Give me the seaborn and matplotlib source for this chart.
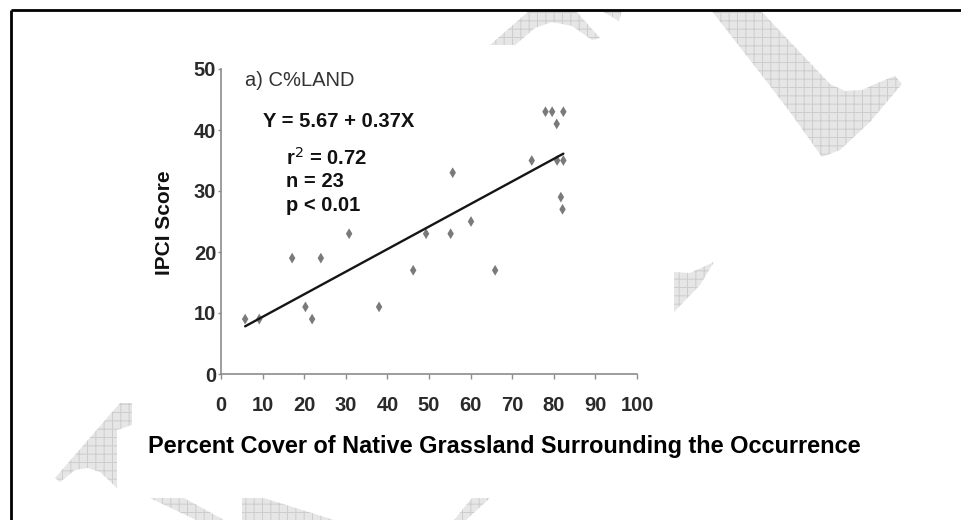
import numpy as np
import pandas as pd
import matplotlib
matplotlib.use("Agg")
import matplotlib.pyplot as plt
from matplotlib.patches import Polygon, Rectangle
import seaborn as sns

# ---------------- data ----------------
cover = [5.8, 9.2, 17.1, 20.3, 21.9, 24.0, 30.8, 38.0, 46.2, 49.3, 55.2, 55.7,
         60.1, 65.9, 74.7, 78.0, 79.6, 80.7, 80.8, 82.3, 82.3, 81.7, 82.1]
ipci = [9, 9, 19, 11, 9, 19, 23, 11, 17, 23, 23, 33,
        25, 17, 35, 43, 43, 41, 35, 35, 43, 29, 27]
intercept = 5.67
slope = 0.37
x_ticks = [0, 10, 20, 30, 40, 50, 60, 70, 80, 90, 100]
y_ticks = [0, 10, 20, 30, 40, 50]
panel_label = "a) C%LAND"
equation = "Y = 5.67 + 0.37X"
stats_lines = ["r$^2$ = 0.72", "n = 23", "p < 0.01"]
x_label = "Percent Cover of Native Grassland Surrounding the Occurrence"
y_label = "IPCI Score"

df = pd.DataFrame({"cover": cover, "ipci": ipci})
fit_x = np.array([min(cover), max(cover)])
fit_df = pd.DataFrame({"cover": fit_x, "ipci": intercept + slope * fit_x})

# ---------------- style ----------------
sns.set_style("ticks")
plt.rcParams["font.family"] = ["Liberation Sans", "DejaVu Sans"]
plt.rcParams["hatch.linewidth"] = 0.7

W, H = 961, 520
fig = plt.figure(figsize=(W / 100, H / 100), dpi=100)
fig.patch.set_facecolor("white")

# ---------------- page decoration (watermark + frame) ----------------
bg = fig.add_axes([0, 0, 1, 1])
bg.set_xlim(0, W)
bg.set_ylim(H, 0)
bg.axis("off")

watermark = [
    [(490, 45), (530, 10), (575, 10), (600, 38), (592, 40), (572, 26), (552, 22), (535, 28), (515, 45)],
    [(600, 10), (622, 10), (619, 21)],
    [(711, 10), (760, 10), (830, 84), (845, 91), (862, 90), (880, 82), (895, 76), (902, 84),
     (870, 122), (840, 150), (822, 157), (790, 112), (750, 60)],
    [(674, 272), (690, 273), (714, 262), (700, 285), (674, 312)],
    [(55, 478), (120, 403), (132, 403), (132, 425), (117, 430), (117, 488), (100, 472),
     (88, 468), (75, 470), (60, 482)],
    [(150, 498), (184, 498), (224, 520), (196, 520)],
    [(242, 498), (264, 498), (334, 520), (242, 520)],
    [(472, 498), (490, 498), (466, 520), (454, 520)],
]
for poly in watermark:
    bg.add_patch(Polygon(poly, closed=True, facecolor="#e6e6e6", edgecolor="#cdcdcd",
                         hatch="++", linewidth=0, zorder=1))
bg.add_patch(Rectangle((132, 45), 542, 380, facecolor="white", edgecolor="none", zorder=2))
bg.plot([11, W], [10, 10], color="black", lw=2.0, zorder=3, solid_capstyle="butt")
bg.plot([11, 11], [10, H], color="black", lw=2.0, zorder=3, solid_capstyle="butt")

# ---------------- chart ----------------
ax = fig.add_axes([221 / W, 1 - 374 / H, 416 / W, 305 / H])
ax.set_facecolor("none")

sns.scatterplot(data=df, x="cover", y="ipci", marker="d", s=30, color="#7a7a7a",
                edgecolor="none", ax=ax, zorder=3, clip_on=False)
sns.lineplot(data=fit_df, x="cover", y="ipci", color="#151515", lw=1.7, ax=ax, zorder=4)

ax.set_xlim(0, 100)
ax.set_ylim(0, 50)
ax.set_xticks(x_ticks)
ax.set_yticks(y_ticks)
ax.set_xticklabels([str(t) for t in x_ticks], fontsize=14.5, fontweight="bold", color="#2a2a2a")
ax.set_yticklabels([str(t) for t in y_ticks], fontsize=14.5, fontweight="bold", color="#2a2a2a")
ax.tick_params(axis="x", length=3.5, width=1.0, color="#8c8c8c", pad=12)
ax.tick_params(axis="y", length=2, width=1.0, color="#8c8c8c", pad=1.5)
for side in ["top", "right"]:
    ax.spines[side].set_visible(False)
for side in ["left", "bottom"]:
    ax.spines[side].set_color("#8c8c8c")
    ax.spines[side].set_linewidth(1.2)

ax.set_xlabel("")
ax.set_ylabel(y_label, fontsize=15, fontweight="bold", color="#111111")
ax.yaxis.set_label_coords(-0.112, 0.495)

ax.text(5.8, 48.1, panel_label, fontsize=14.5, color="#333333", va="center", ha="left")
ax.text(10.0, 41.4, equation, fontsize=14.5, fontweight="bold", color="#111111", va="center", ha="left")
for i, s in enumerate(stats_lines):
    ax.text(15.6, 35.4 - i * 3.9, s, fontsize=14.5, fontweight="bold", color="#111111",
            va="center", ha="left")

fig.text(504.5 / W, 1 - 447 / H, x_label, fontsize=16.9, fontweight="bold",
         color="black", ha="center", va="center")

fig.savefig("out.png", dpi=100, facecolor="white")
